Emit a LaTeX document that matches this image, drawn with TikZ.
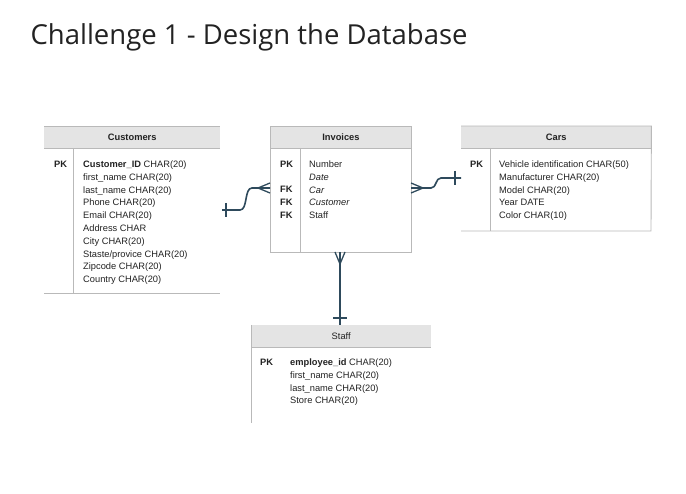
\documentclass[tikz,border=0pt]{standalone}
\usepackage{fontspec}
\setmainfont{Liberation Sans}
\newfontfamily\titlefont{Open Sans}
\usetikzlibrary{positioning,calc}
\definecolor{hdrgray}{RGB}{228,228,228}
\definecolor{rulegray}{RGB}{185,185,185}
\definecolor{relink}{RGB}{46,74,92}
\definecolor{ink}{RGB}{34,34,34}

\begin{document}
\begin{tikzpicture}[
  x=1pt, y=-1pt,
  every node/.style={font=\fontsize{9.3}{12.8}\selectfont, text=ink},
  hdr/.style={fill=hdrgray, minimum height=22pt, inner sep=0pt, anchor=north west},
  rows/.style={align=left, anchor=north west, inner sep=0pt},
  rule/.style={draw=rulegray, line width=0.9pt},
  rel/.style={draw=relink, line width=1.6pt},
  crow/.style={draw=relink, line width=1.3pt}
]
\useasboundingbox (0,0) rectangle (686,494);

\node[anchor=base west, font=\titlefont\fontsize{27.5}{32}\selectfont] (title) at (27,45)
  {Challenge 1 - Design the Database};

% Customers
\node[hdr, minimum width=176pt] (cust) at (44,126) {\textbf{Customers}};
\draw[rule] (cust.north west) -- (cust.north east);
\draw[rule] (cust.south west) -- (cust.south east);
\draw[rule] (73,148) -- (73,293);
\draw[rule] (44,293) -- (220,293);
\node[rows] (cust-pk) at (54,160.5) {\textbf{PK}};
\node[rows] (cust-cols) at (83,160.5) {%
  \textbf{Customer\_ID} CHAR(20)\\
  first\_name CHAR(20)\\
  last\_name CHAR(20)\\
  Phone CHAR(20)\\
  Email CHAR(20)\\
  Address CHAR\\
  City CHAR(20)\\
  Staste/provice CHAR(20)\\
  Zipcode CHAR(20)\\
  Country CHAR(20)};

% Invoices
\node[hdr, draw=rulegray, line width=0.9pt, minimum width=141pt] (inv) at (270,126) {\textbf{Invoices}};
\draw[rule] (inv.south west) rectangle (411,252);
\draw[rule] (300,148) -- (300,252);
\node[rows] (inv-pk) at (280,160.5) {%
  \textbf{PK}\\[12.8pt]
  \textbf{FK}\\
  \textbf{FK}\\
  \textbf{FK}};
\node[rows] (inv-cols) at (309,160.5) {%
  Number\\
  \textit{Date}\\
  \textit{Car}\\
  \textit{Customer}\\
  Staff};

% Cars
\node[hdr, minimum width=190pt] (cars) at (461,126) {\textbf{Cars}};
\draw[rule] (cars.north west) -- (cars.north east) -- (651,231) -- (461,231);
\draw[rule] (cars.south west) -- (cars.south east);
\draw[rule] (490,148) -- (490,231);
\node[rows] (cars-pk) at (470,160.5) {\textbf{PK}};
\node[rows] (cars-cols) at (499,160.5) {%
  Vehicle identification CHAR(50)\\
  Manufacturer CHAR(20)\\
  Model CHAR(20)\\
  Year DATE\\
  Color CHAR(10)};

% Staff
\node[hdr, minimum width=180pt] (staff) at (251,325) {Staff};
\draw[rule] (staff.south west) -- (staff.south east);
\draw[rule] (staff.north west) -- (251,423);
\node[rows] (staff-pk) at (260,358.5) {\textbf{PK}};
\node[rows] (staff-cols) at (290,358.5) {%
  \textbf{employee\_id} CHAR(20)\\
  first\_name CHAR(20)\\
  last\_name CHAR(20)\\
  Store CHAR(20)};

% relationship ends
\coordinate (inv-w) at (270,188);
\coordinate (inv-e) at (411,188);
\coordinate (inv-s) at (340,252);
\coordinate (cust-e) at (222,210);
\coordinate (cars-w) at (461,178);
\coordinate (staff-n) at (340,325);

% Customers -- Invoices
\draw[rel] (inv-w) -- ++(-18,0) .. controls +(-8,0) and +(8,0) .. ($(cust-e)+(18,0)$) -- (cust-e);
\draw[crow] ($(inv-w)+(0,-5)$) -- ($(inv-w)+(-12,0)$) -- ($(inv-w)+(0,5)$);
\draw[rel] ($(cust-e)+(4,-7)$) -- ($(cust-e)+(4,7)$);

% Invoices -- Cars
\draw[rel] (inv-e) -- ++(20,0) .. controls +(6,0) and +(-6,0) .. ($(cars-w)+(-20,0)$) -- (cars-w);
\draw[crow] ($(inv-e)+(0,-5)$) -- ($(inv-e)+(12,0)$) -- ($(inv-e)+(0,5)$);
\draw[rel] ($(cars-w)+(-6,-7)$) -- ($(cars-w)+(-6,7)$);

% Invoices -- Staff
\draw[rel] (inv-s) -- (staff-n);
\draw[crow] ($(inv-s)+(-5,0)$) -- ($(inv-s)+(0,12)$) -- ($(inv-s)+(5,0)$);
\draw[rel] ($(staff-n)+(-7,-7)$) -- ($(staff-n)+(7,-7)$);

\end{tikzpicture}
\end{document}
